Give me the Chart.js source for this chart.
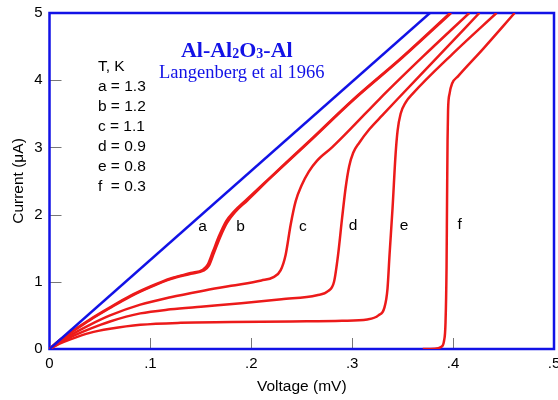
<!DOCTYPE html>
<html lang="en">
<head>
  <meta charset="UTF-8" />
  <title>Al-Al2O3-Al tunnel junction I-V</title>
  <script src="https://cdn.jsdelivr.net/npm/chart.js"></script>
  <style>
    html, body { margin: 0; padding: 0; background: #fff; }
    #wrap { width: 558px; height: 400px; }
  </style>
</head>
<body>
  <div id="wrap"><canvas id="ivChart" width="558" height="400"></canvas></div>

  <script>
    // voltage in mV, current in uA
    const normV = [0, 0.377];
    const normI = [0, 5];

    const aV = [0, 0.01, 0.02, 0.04, 0.06, 0.08, 0.1, 0.12, 0.14, 0.152, 0.157, 0.162, 0.168, 0.175, 0.183, 0.195, 0.22, 0.26, 0.3, 0.35, 0.397];
    const aI = [0, 0.13, 0.24, 0.44, 0.62, 0.79, 0.93, 1.05, 1.13, 1.18, 1.26, 1.45, 1.68, 1.9, 2.05, 2.22, 2.57, 3.13, 3.7, 4.35, 5];

    const bV = [0, 0.01, 0.02, 0.04, 0.06, 0.08, 0.1, 0.12, 0.14, 0.153, 0.158, 0.163, 0.169, 0.176, 0.184, 0.196, 0.22, 0.26, 0.3, 0.35, 0.398];
    const bI = [0, 0.13, 0.23, 0.43, 0.61, 0.78, 0.92, 1.04, 1.12, 1.17, 1.24, 1.43, 1.66, 1.88, 2.04, 2.21, 2.56, 3.12, 3.69, 4.34, 5];

    const cV = [0, 0.01, 0.02, 0.04, 0.06, 0.09, 0.12, 0.15, 0.18, 0.21, 0.222, 0.229, 0.234, 0.239, 0.244, 0.25, 0.257, 0.265, 0.28, 0.3, 0.327, 0.37, 0.416];
    const cI = [0, 0.11, 0.2, 0.36, 0.5, 0.66, 0.77, 0.86, 0.94, 1.02, 1.07, 1.17, 1.4, 1.85, 2.2, 2.44, 2.64, 2.8, 3.0, 3.3, 3.72, 4.35, 5];

    const dV = [0, 0.01, 0.02, 0.04, 0.06, 0.09, 0.12, 0.15, 0.19, 0.23, 0.265, 0.276, 0.282, 0.286, 0.29, 0.2935, 0.297, 0.301, 0.307, 0.317, 0.33, 0.345, 0.385, 0.426];
    const dI = [0, 0.09, 0.17, 0.3, 0.41, 0.53, 0.59, 0.63, 0.68, 0.74, 0.8, 0.86, 1.0, 1.4, 1.95, 2.4, 2.72, 2.92, 3.07, 3.27, 3.48, 3.72, 4.35, 5];

    const eV = [0, 0.01, 0.02, 0.04, 0.06, 0.09, 0.13, 0.18, 0.24, 0.29, 0.315, 0.326, 0.332, 0.335, 0.337, 0.34, 0.343, 0.345, 0.348, 0.353, 0.36, 0.4, 0.443];
    const eI = [0, 0.08, 0.14, 0.24, 0.3, 0.36, 0.39, 0.4, 0.41, 0.42, 0.44, 0.5, 0.62, 0.9, 1.4, 2.1, 2.9, 3.25, 3.5, 3.67, 3.8, 4.4, 5];

    const fV = [0.37, 0.382, 0.388, 0.391, 0.3925, 0.3935, 0.394, 0.3945, 0.395, 0.3965, 0.399, 0.405, 0.43, 0.461];
    const fI = [0, 0.005, 0.03, 0.12, 0.4, 1.2, 2.2, 3.1, 3.55, 3.8, 3.95, 4.06, 4.47, 5];

    const curveNames = ['a', 'b', 'c', 'd', 'e', 'f'];
    const temps = ['1.3', '1.2', '1.1', '0.9', '0.8', '0.3'];
    // where the curve letters sit (V, I)
    const labelV = [0.1517, 0.1893, 0.2512, 0.3008, 0.3513, 0.4064];
    const labelI = [1.82, 1.82, 1.82, 1.83, 1.83, 1.85];

    const xTicks = [0, 0.1, 0.2, 0.3, 0.4, 0.5];
    const yTicks = [0, 1, 2, 3, 4, 5];

    const RED = '#ec1a1a';
    const BLUE = '#1212e6';
    const SANS = '"Liberation Sans", Arial, Helvetica, sans-serif';
    const SERIF = '"Liberation Serif", "Times New Roman", serif';

    function pts(vs, is) {
      return vs.map((v, i) => ({ x: v, y: is[i] }));
    }

    const redSet = (label, vs, is) => ({
      label, data: pts(vs, is), borderColor: RED, borderWidth: 2.5,
      showLine: true, pointRadius: 0, cubicInterpolationMode: 'monotone', fill: false
    });

    // blue frame + inward tick marks
    const framePlugin = {
      id: 'frame',
      beforeDatasetsDraw(chart) {
        const { ctx, chartArea: ca, scales } = chart;
        ctx.save();
        ctx.strokeStyle = '#777';
        ctx.lineWidth = 1;
        yTicks.slice(1, -1).forEach(v => {
          const y = Math.round(scales.y.getPixelForValue(v)) + 0.5;
          ctx.beginPath(); ctx.moveTo(ca.left, y); ctx.lineTo(ca.left + 12, y); ctx.stroke();
        });
        xTicks.slice(1, -1).forEach(v => {
          const x = Math.round(scales.x.getPixelForValue(v)) + 0.5;
          ctx.beginPath(); ctx.moveTo(x, ca.bottom); ctx.lineTo(x, ca.bottom - 11); ctx.stroke();
        });
        ctx.strokeStyle = BLUE;
        ctx.lineWidth = 2.5;
        ctx.strokeRect(ca.left, ca.top, ca.right - ca.left, ca.bottom - ca.top);
        ctx.restore();
      }
    };

    const textPlugin = {
      id: 'notes',
      afterDatasetsDraw(chart) {
        const { ctx, scales } = chart;
        const px = v => scales.x.getPixelForValue(v);
        const py = v => scales.y.getPixelForValue(v);
        ctx.save();

        // curve letters
        ctx.fillStyle = '#000';
        ctx.font = '15.5px ' + SANS;
        ctx.textAlign = 'center';
        ctx.textBaseline = 'middle';
        curveNames.forEach((n, i) => ctx.fillText(n, px(labelV[i]), py(labelI[i])));

        // temperature key
        ctx.textAlign = 'left';
        const kx = px(0.048);
        let ky = py(4.194);
        ctx.fillText('T, K', kx, ky);
        curveNames.forEach((n, i) => {
          ky += 20;
          ctx.fillText(n + (n === 'f' ? '  = ' : ' = ') + temps[i], kx, ky);
        });

        // title with subscripts
        ctx.fillStyle = BLUE;
        ctx.textBaseline = 'alphabetic';
        const parts = [['Al-Al', 22], ['2', 14], ['O', 22], ['3', 14], ['-Al', 22]];
        let w = 0;
        parts.forEach(([t, s]) => { ctx.font = 'bold ' + s + 'px ' + SERIF; w += ctx.measureText(t).width; });
        let tx = px(0.1856) - w / 2;
        const ty = py(4.343);
        parts.forEach(([t, s]) => {
          ctx.font = 'bold ' + s + 'px ' + SERIF;
          ctx.fillText(t, tx, ty + (s < 20 ? 1 : 0));
          tx += ctx.measureText(t).width;
        });
        ctx.font = '18.5px ' + SERIF;
        ctx.textAlign = 'center';
        ctx.fillText('Langenberg et al 1966', px(0.1906), py(4.03));
        ctx.restore();
      }
    };

    new Chart(document.getElementById('ivChart'), {
      type: 'scatter',
      data: {
        datasets: [
          { label: 'normal', data: pts(normV, normI), borderColor: BLUE, borderWidth: 2.5, showLine: true, pointRadius: 0 },
          redSet('a', aV, aI),
          redSet('b', bV, bI),
          redSet('c', cV, cI),
          redSet('d', dV, dI),
          redSet('e', eV, eI),
          redSet('f', fV, fI)
        ]
      },
      options: {
        responsive: false,
        animation: false,
        layout: { padding: { top: 13, right: 4, left: 0, bottom: 0 } },
        plugins: { legend: { display: false }, tooltip: { enabled: false } },
        scales: {
          x: {
            type: 'linear', min: 0, max: 0.5,
            grid: { display: false, drawTicks: false },
            border: { display: false },
            ticks: {
              stepSize: 0.1, color: '#000', padding: 6, maxRotation: 0,
              font: { family: SANS, size: 15 },
              callback: v => v === 0 ? '0' : Number(v).toFixed(1).replace(/^0/, '')
            },
            title: { display: true, text: 'Voltage (mV)', color: '#000', font: { family: SANS, size: 15.5 }, padding: { top: 0, bottom: 4 } },
            afterFit: s => { s.height = 51; s.paddingLeft = 0; s.paddingRight = 0; }
          },
          y: {
            type: 'linear', min: 0, max: 5,
            grid: { display: false, drawTicks: false },
            border: { display: false },
            ticks: { stepSize: 1, color: '#000', padding: 7, font: { family: SANS, size: 15 } },
            title: { display: true, text: 'Current (\u03bcA)', color: '#000', font: { family: SANS, size: 15.5 }, padding: { top: 9, bottom: 0 } },
            afterFit: s => { s.width = 49.5; s.paddingTop = 0; s.paddingBottom = 0; }
          }
        }
      },
      plugins: [framePlugin, textPlugin]
    });
  </script>
</body>
</html>
